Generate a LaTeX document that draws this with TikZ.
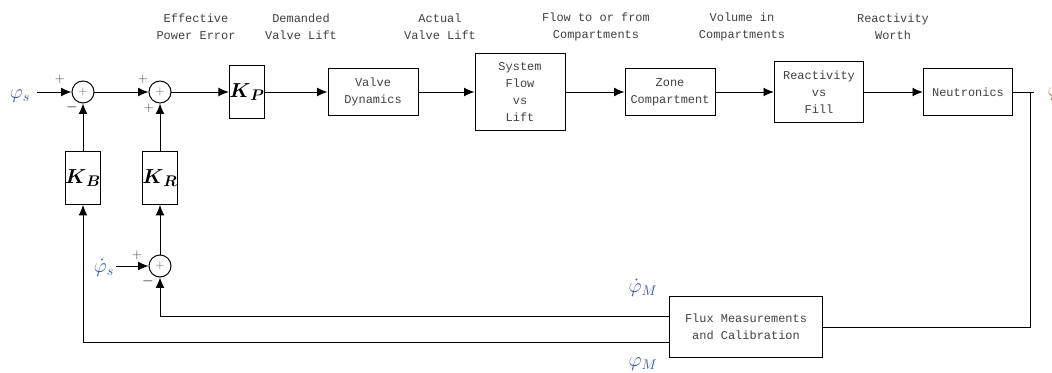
\documentclass[tikz,border=0pt]{standalone}
\usepackage{fontspec}
\usepackage{amsmath, amssymb}
\setmonofont{Liberation Mono}
\usetikzlibrary{arrows.meta}
\definecolor{sigblue}{RGB}{60,90,160}
\definecolor{sigorange}{RGB}{190,110,40}
\tikzset{
        % Blocks
        block/.style={draw, rectangle, align=center, font=\ttfamily\fontsize{8.5}{12}\selectfont, text=black!75},
        % Gain blocks
        gain/.style={draw, rectangle, inner sep=0pt, minimum width=0.8cm, minimum height=1.32cm, font=\fontsize{15}{18}\selectfont},
        % Summing junctions
        sumnode/.style={draw, circle, inner sep=0pt, minimum size=0.55cm, font=\fontsize{8}{8}\selectfont, text=black!60},
        % Signal names above the arrows
        sigtext/.style={align=center, font=\ttfamily\fontsize{8.5}{12}\selectfont, text=black!75},
        % Signs at the junctions
        sign/.style={inner sep=0pt, font=\fontsize{9}{9}\selectfont, text=black!70},
        % Math signals
        sigmath/.style={inner sep=0pt, text=sigblue, font=\fontsize{14}{16}\selectfont}
}

\begin{document}
\begin{tikzpicture}[x=0.025cm, y=-0.025cm, line width=0.7pt, >={Latex[length=2.6mm,width=2.2mm]}]
    \useasboundingbox (0,0) rectangle (1052,373);
    % forward path
    \node[sigmath] (phis) at (20,96) {$\varphi_{s}$};
    \node[sumnode] (sumA) at (83,92) {$+$};
    \node[sumnode] (sumB) at (160,92) {$+$};
    \node[gain, minimum width=0.78cm] (kp) at (247,92) {$\boldsymbol{K}_{\boldsymbol{P}}$};
    \node[block, minimum width=2.25cm, minimum height=1.18cm] (valve) at (373,92) {Valve\\Dynamics};
    \node[block, minimum width=2.25cm, minimum height=1.93cm] (sysflow) at (520,92) {System\\Flow\\vs\\Lift};
    \node[block, minimum width=2.25cm, minimum height=1.18cm] (zone) at (670,92) {Zone\\Compartment};
    \node[block, minimum width=2.23cm, minimum height=1.53cm] (react) at (819,92) {Reactivity\\vs\\Fill};
    \node[block, minimum width=2.23cm, minimum height=1.18cm] (neutr) at (968,92) {Neutronics};
    \node[sigmath, text=sigorange, anchor=west] (phiout) at (1047,94) {$\varphi$};
    % gains and rate junction
    \node[gain] (kb) at (83,178) {$\boldsymbol{K}_{\boldsymbol{B}}$};
    \node[gain] (kr) at (160,178) {$\boldsymbol{K}_{\boldsymbol{R}}$};
    \node[sumnode] (sumC) at (160,266) {$+$};
    \node[sigmath] (phisdot) at (104,268) {$\dot{\varphi}_{s}$};
    % measurement
    \node[block, minimum width=3.83cm, minimum height=1.5cm] (flux) at (746,327) {Flux Measurements\\and Calibration};
    \node[sigmath] (phimdot) at (643,288) {$\dot{\varphi}_{M}$};
    \node[sigmath] (phim) at (643,364) {$\varphi_{M}$};
    % signal names
    \node[sigtext] (t1) at (196,27) {Effective\\Power Error};
    \node[sigtext] (t2) at (301,27) {Demanded\\Valve Lift};
    \node[sigtext] (t3) at (440,27) {Actual\\Valve Lift};
    \node[sigtext] (t4) at (596,27) {Flow to or from\\Compartments};
    \node[sigtext] (t5) at (742,27) {Volume in\\Compartments};
    \node[sigtext] (t6) at (893,27) {Reactivity\\Worth};
    % signs
    \node[sign] (pA) at (60,79) {$+$};
    \node[sign] (mA) at (72,107) {$\boldsymbol{-}$};
    \node[sign] (pB) at (143,79) {$+$};
    \node[sign] (qB) at (149,108) {$+$};
    \node[sign] (pC) at (137,255) {$+$};
    \node[sign] (mC) at (148,281) {$\boldsymbol{-}$};
    \coordinate (inS) at (37,92);
    \coordinate (inSdot) at (116,266);
    \coordinate (tap) at (1030,92);
    \coordinate (stub) at (1034,92);
    \coordinate (fbR) at (670,316);
    \coordinate (fbB) at (670,342);
    % connectors
    \draw[->] (inS) -- (sumA);
    \draw[->] (sumA) -- (sumB);
    \draw[->] (sumB) -- (kp);
    \draw[->] (kp) -- (valve);
    \draw[->] (valve) -- (sysflow);
    \draw[->] (sysflow) -- (zone);
    \draw[->] (zone) -- (react);
    \draw[->] (react) -- (neutr);
    \draw (neutr.east) -- (stub);
    \draw (tap) |- (flux.east);
    \draw[->] (kb) -- (sumA);
    \draw[->] (kr) -- (sumB);
    \draw[->] (sumC) -- (kr);
    \draw[->] (inSdot) -- (sumC);
    \draw[->] (fbR) -| (sumC.south);
    \draw[->] (fbB) -| (kb.south);
\end{tikzpicture}
\end{document}
